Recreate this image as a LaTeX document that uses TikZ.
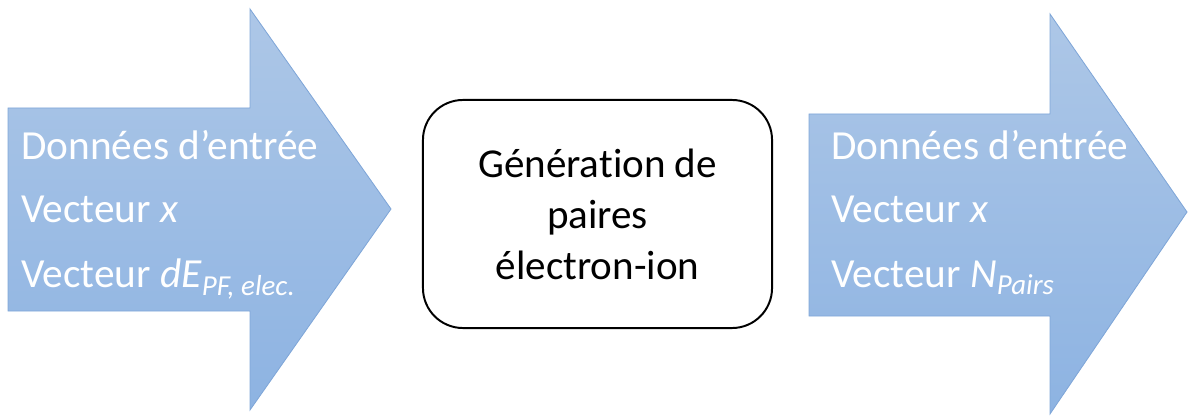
\documentclass[tikz,border=0pt]{standalone}
\usepackage{fontspec}
\setmainfont[Ligatures=NoCommon]{Carlito}
\usetikzlibrary{positioning}
\definecolor{arrowtop}{HTML}{ADC7E7}
\definecolor{arrowbot}{HTML}{8DB3E2}
\definecolor{arrowline}{HTML}{7FA6D8}

\begin{document}
\begin{tikzpicture}[
    x=.025cm, y=.025cm,
    bigarrow/.style={draw=arrowline, line width=.6pt, top color=arrowtop, bottom color=arrowbot},
    inline/.style={anchor=base west, inner sep=0pt, text=white,
      font=\fontsize{29.4}{36}\selectfont},
    procbox/.style={draw, line width=1.4pt, rounded corners=1cm, align=center,
      minimum width=8.725cm, minimum height=5.7cm,
      font=\fontsize{29.2}{36.3}\selectfont}
  ]
    \useasboundingbox (0,0) rectangle (1188,415);

    % input arrow
    \draw[bigarrow] (8,307) -- (250,307) -- (250,406) -- (391,206) -- (250,5)
      -- (250,104) -- (8,104) -- cycle;
    \foreach \y/\t/\n in {255/{Données d’entrée}/1, 192/{Vecteur \textit{x}}/2,
        128/{Vecteur \textit{dE}\textsubscript{\textit{PF, elec.}}}/3} {
      \node[inline] (in\n) at (21,\y) {\t};
    }

    \node[procbox] (gen) at (597.5,201) {Génération de\\paires\\électron-ion};

    % output arrow
    \draw[bigarrow] (809,301) -- (1050,301) -- (1050,401) -- (1187,203) -- (1050,1)
      -- (1050,99) -- (809,99) -- cycle;
    \foreach \y/\t/\n in {255/{Données d’entrée}/1, 192/{Vecteur \textit{x}}/2,
        128/{Vecteur \textit{N}\textsubscript{\textit{Pairs}}}/3} {
      \node[inline] (out\n) at (831,\y) {\t};
    }
  \end{tikzpicture}
\end{document}
